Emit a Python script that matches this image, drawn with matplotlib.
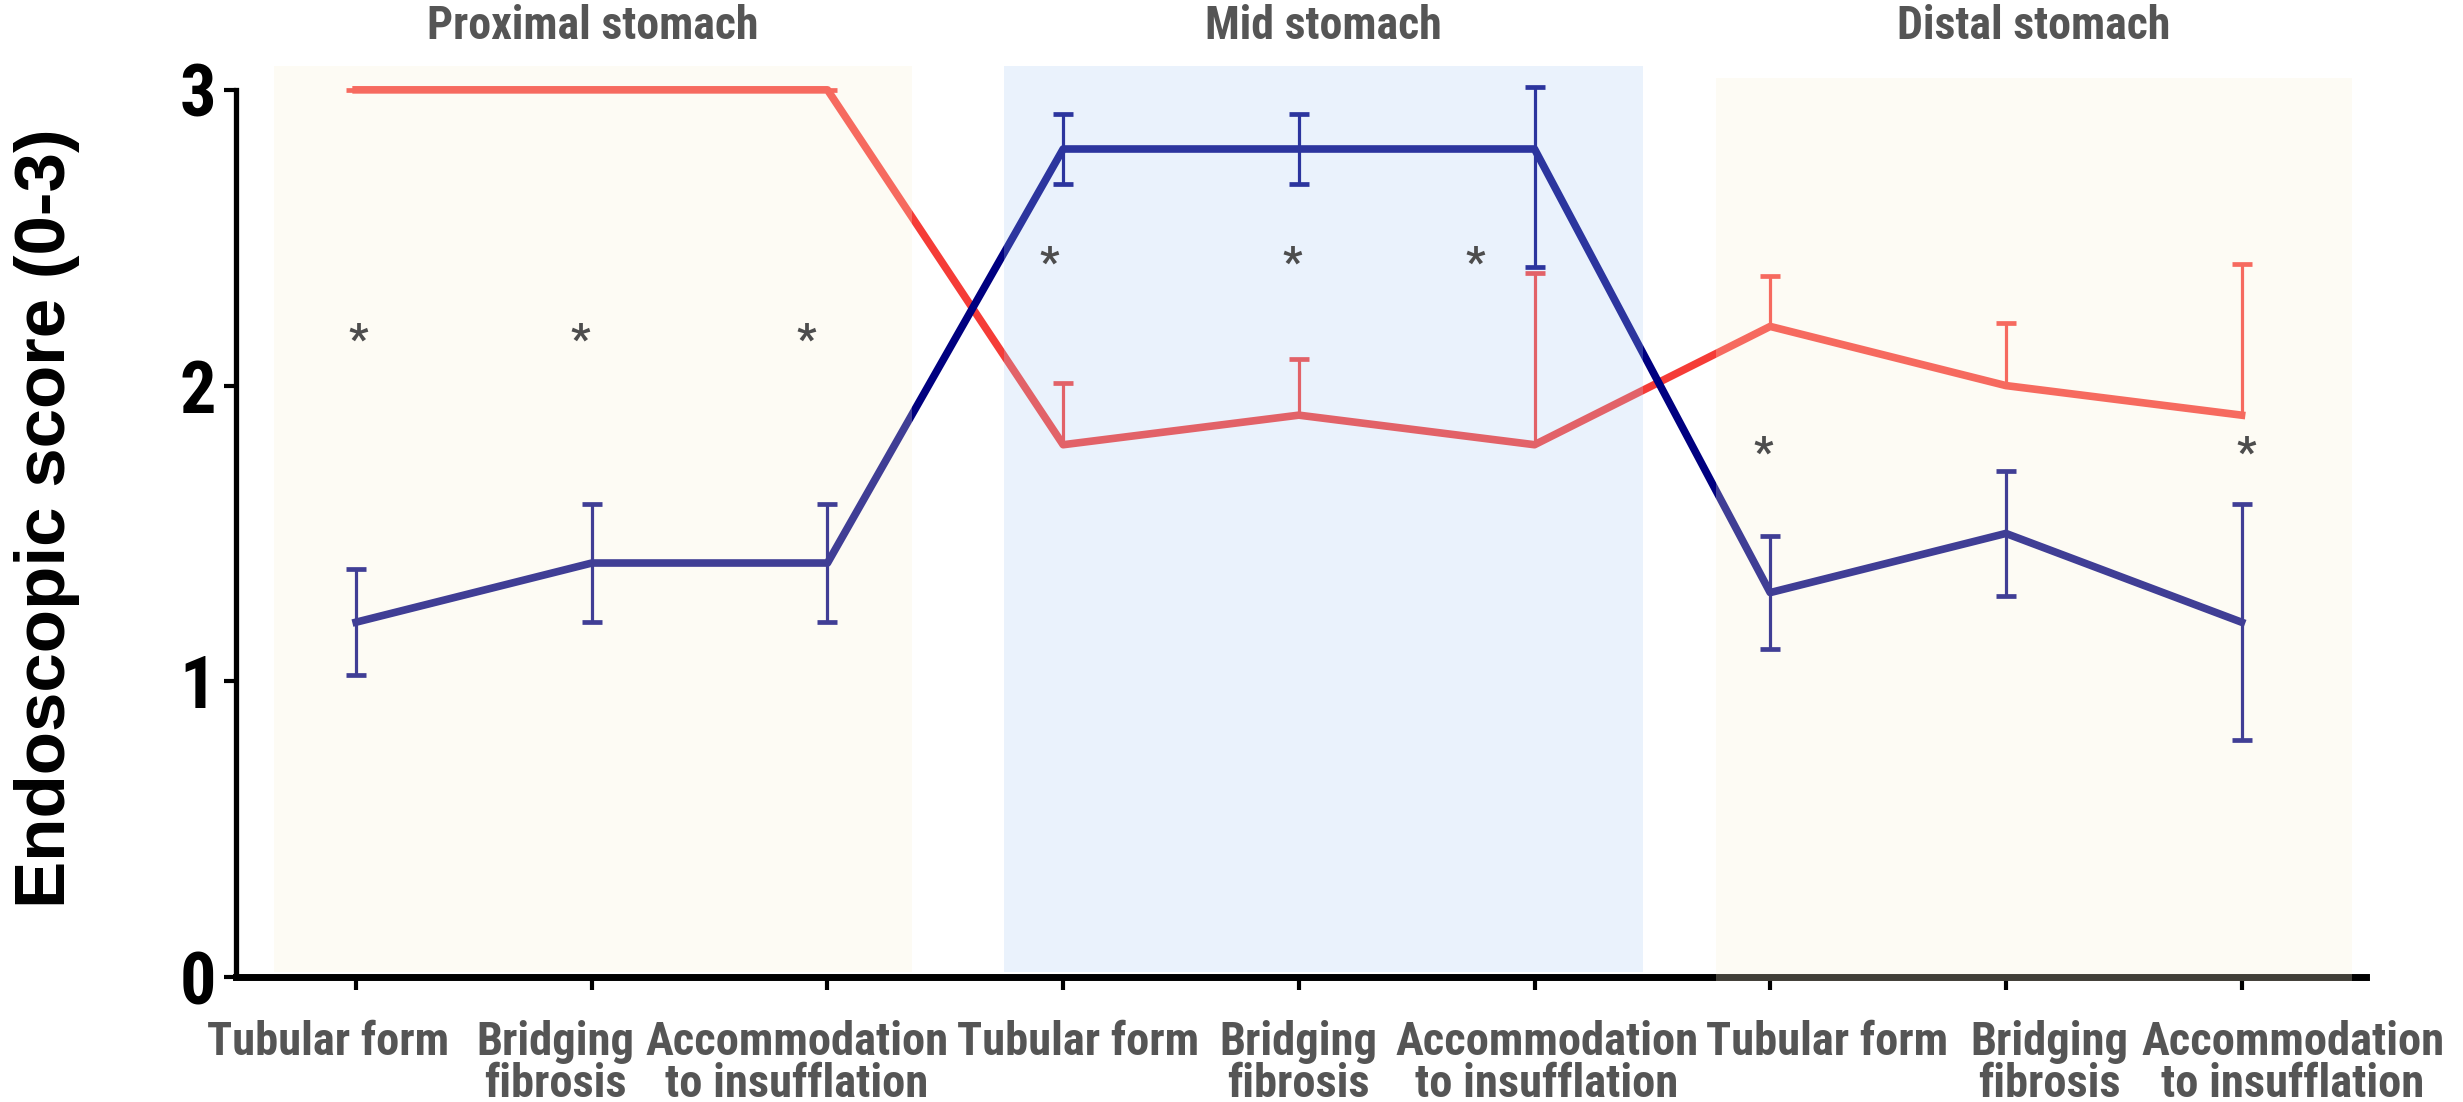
import numpy as np
import matplotlib
matplotlib.use("Agg")
import matplotlib.pyplot as plt
from matplotlib.patches import Rectangle
from matplotlib.transforms import ScaledTranslation

# categories (repeated for each region)
tick_labels = ["Tubular form", "Bridging\nfibrosis", "Accommodation\nto insufflation"] * 3
regions = ["Proximal stomach", "Mid stomach", "Distal stomach"]

# red group: mean and upper error only
red_mean = [3.0, 3.0, 3.0, 1.8, 1.9, 1.8, 2.2, 2.0, 1.9]
red_err_up = [0.0, 0.0, 0.0, 0.21, 0.19, 0.58, 0.17, 0.21, 0.51]

# blue group: mean with lower / upper error
blue_mean = [1.2, 1.4, 1.4, 2.8, 2.8, 2.8, 1.3, 1.5, 1.2]
blue_err_lo = [0.18, 0.2, 0.2, 0.12, 0.12, 0.4, 0.19, 0.21, 0.4]
blue_err_up = [0.18, 0.2, 0.2, 0.12, 0.12, 0.21, 0.19, 0.21, 0.4]

# significance marks: (x position, height)
star_x = [0.01, 0.95, 1.91, 2.94, 3.97, 4.75, 5.97, 8.02]
star_y = [2.15, 2.15, 2.15, 2.41, 2.41, 2.41, 1.77, 1.77]

# shaded regions: (x start, x end, y bottom, y top, colour)
shade_x0 = [-0.35, 2.75, 5.77]
shade_x1 = [2.36, 5.46, 8.47]
shade_y0 = [0.018, 0.018, -0.015]
shade_y1 = [3.08, 3.08, 3.04]
shade_col = ["#faf0d5", "#aed0f7", "#faf0d5"]

# horizontal shift of each tick label (points), the labels are not centred on ticks
label_shift = [-20, -26, -22, 11, 0, 9, 41, 31, 37]

narrow = ["DejaVu Sans Condensed", "Roboto Condensed", "Roboto", "DejaVu Sans"]
grey = "#555555"
red = "#f53c37"
navy = "#000080"

fig = plt.figure(figsize=(24.63, 11.02), dpi=100)
ax = fig.add_axes([0.0958, 0.1134, 0.865, 0.8319])

x = np.arange(len(red_mean))

r_line, r_caps, r_bars = ax.errorbar(
    x, red_mean, yerr=[np.zeros(len(x)), red_err_up], color=red, lw=5.5,
    elinewidth=2.3, capsize=7.5, capthick=3.4, zorder=2)
r_caps[0].set_visible(False)

ax.errorbar(x, blue_mean, yerr=[blue_err_lo, blue_err_up], color=navy, lw=5.5,
            elinewidth=2.3, capsize=7.5, capthick=3.4, zorder=2.1)

# light overlays drawn on top of the lines, as in the original figure
for x0, x1, y0, y1, c in zip(shade_x0, shade_x1, shade_y0, shade_y1, shade_col):
    ax.add_patch(Rectangle((x0, y0), x1 - x0, y1 - y0, facecolor=c,
                           edgecolor="none", alpha=0.26, zorder=3, clip_on=False))

for sx, sy in zip(star_x, star_y):
    ax.text(sx, sy, "*", ha="center", va="center", fontsize=31,
            fontweight="bold", color="#4d4d4d", family=narrow, zorder=4)

for name, x0, x1 in zip(regions, shade_x0, shade_x1):
    ax.text((x0 + x1) / 2, 3.215, name, ha="center", va="center", fontsize=33,
            fontweight="bold", color=grey, family=narrow, clip_on=False)

ax.set_xlim(-0.51, 8.53)
ax.set_ylim(0, 3.1)
ax.set_yticks([0, 1, 2, 3])
ax.set_xticks(x)
ax.set_xticklabels(tick_labels)

for s in ["top", "right"]:
    ax.spines[s].set_visible(False)
ax.spines["left"].set_bounds(0, 3)
ax.spines["left"].set_linewidth(3.8)
ax.spines["bottom"].set_linewidth(5)

ax.tick_params(axis="y", length=8.5, width=3, pad=6)
ax.tick_params(axis="x", length=9, width=3, pad=22)
for lab in ax.get_yticklabels():
    lab.set_family(narrow)
    lab.set_fontsize(52)
    lab.set_fontweight("bold")
for lab, dx in zip(ax.get_xticklabels(), label_shift):
    lab.set_family(narrow)
    lab.set_fontsize(33.5)
    lab.set_fontweight("bold")
    lab.set_color(grey)
    lab.set_linespacing(0.93)
    lab.set_transform(lab.get_transform() + ScaledTranslation(dx / 72, 0, fig.dpi_scale_trans))

fig.text(0.019, 0.53, "Endoscopic score (0-3)", rotation=90, ha="center",
         va="center", fontsize=51, fontweight="bold", family=["Liberation Sans", "DejaVu Sans"])

fig.savefig("out.png", dpi=100)
